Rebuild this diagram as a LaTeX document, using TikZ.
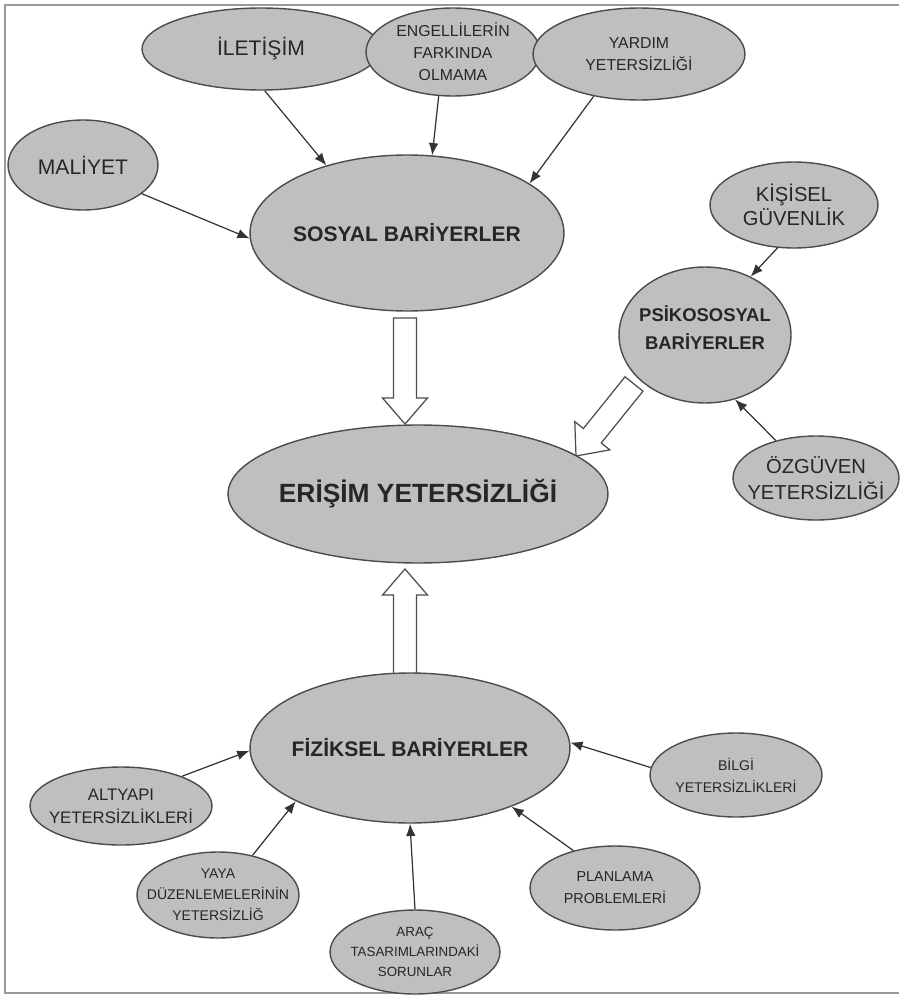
\documentclass[tikz,border=0pt]{standalone}
\usepackage{fontspec}
\setmainfont{Liberation Sans}
\usetikzlibrary{shapes.geometric,arrows.meta,calc}

\newcommand{\tsize}[2]{\fontsize{#1}{#2}\selectfont}

\tikzset{
  bubble/.style={ellipse, draw=black!70, line width=0.8pt, fill=gray!50, inner sep=0pt},
  lbl/.style={align=center, text=black!85, inner sep=0pt},
  link/.style={draw=black!80, line width=0.7pt, -{Latex[length=7pt,width=5.5pt]}},
  barrow/.style={draw=black!70, line width=0.7pt, fill=white, line join=miter},
  frame/.style={draw=gray!80, line width=1.3pt}
}

% hollow block arrow: name, tail, tip
\newcommand{\blockarrow}[3]{%
  \coordinate (#1-h) at ($(#3)!0.52cm!(#2)$);
  \draw[barrow] ($(#2)!0.23cm!90:(#3)$) -- ($(#1-h)!0.23cm!-90:(#2)$)
    -- ($(#1-h)!0.45cm!-90:(#2)$) -- (#3) -- ($(#1-h)!0.45cm!90:(#2)$)
    -- ($(#1-h)!0.23cm!90:(#2)$) -- ($(#2)!0.23cm!-90:(#3)$) -- cycle;
}

\begin{document}
\begin{tikzpicture}[x=0.02cm, y=-0.02cm]
        \useasboundingbox (0,0) rectangle (899,997);
        \draw[frame] (899,5) -- (5,5) -- (5,993) -- (899,993);

        \coordinate (c-ilet) at (261,49);
        \coordinate (c-engel) at (453,52);
        \coordinate (c-yardim) at (639,54);
        \coordinate (c-maliyet) at (83,165);
        \coordinate (c-sosyal) at (407,233);
        \coordinate (c-kisisel) at (794,205);
        \coordinate (c-psiko) at (705,335);
        \coordinate (c-erisim) at (418,494);
        \coordinate (c-ozguven) at (816,478);
        \coordinate (c-fiziksel) at (410,748);
        \coordinate (c-altyapi) at (121,806);
        \coordinate (c-bilgi) at (736,775);
        \coordinate (c-yaya) at (218,895);
        \coordinate (c-plan) at (615,888);
        \coordinate (c-arac) at (415,952);

        % block arrows into the main node
        \coordinate (t1) at (405,318);
        \coordinate (p1) at (405,424);
        \coordinate (t2) at (634,384);
        \coordinate (p2) at (576,456);
        \coordinate (t3) at (405,676);
        \coordinate (p3) at (405,569);
        \blockarrow{a1}{t1}{p1}
        \blockarrow{a2}{t2}{p2}
        \blockarrow{a3}{t3}{p3}

        \node[bubble, minimum width=4.76cm, minimum height=1.64cm, label={[lbl, font=\tsize{12}{14}]center:İLETİŞİM}] (ilet) at (c-ilet) {};
        \node[bubble, minimum width=3.48cm, minimum height=1.76cm, label={[lbl, font=\tsize{9}{12.5}]center:{ENGELLİLERİN\\FARKINDA\\OLMAMA}}] (engel) at (c-engel) {};
        \node[bubble, minimum width=4.24cm, minimum height=1.84cm, label={[lbl, font=\tsize{9}{12.5}]center:{YARDIM\\YETERSİZLİĞİ}}] (yardim) at (c-yardim) {};
        \node[bubble, minimum width=3.0cm, minimum height=1.8cm, label={[lbl, font=\tsize{12}{14}]center:MALİYET}] (maliyet) at (c-maliyet) {};
        \node[bubble, minimum width=6.28cm, minimum height=3.12cm, label={[lbl, font=\tsize{12}{14}\bfseries]center:SOSYAL BARİYERLER}] (sosyal) at (c-sosyal) {};
        \node[bubble, minimum width=3.36cm, minimum height=1.72cm, label={[lbl, font=\tsize{11.5}{14}]center:{KİŞİSEL\\GÜVENLİK}}] (kisisel) at (c-kisisel) {};
        \node[bubble, minimum width=3.44cm, minimum height=2.72cm, label={[lbl, font=\tsize{10.5}{16}\bfseries, yshift=4pt]center:{PSİKOSOSYAL\\BARİYERLER}}] (psiko) at (c-psiko) {};
        \node[bubble, minimum width=7.6cm, minimum height=2.76cm, label={[lbl, font=\tsize{15}{18}\bfseries]center:ERİŞİM YETERSİZLİĞİ}] (erisim) at (c-erisim) {};
        \node[bubble, minimum width=3.32cm, minimum height=1.68cm, label={[lbl, font=\tsize{11.5}{15}]center:{ÖZGÜVEN\\YETERSİZLİĞİ}}] (ozguven) at (c-ozguven) {};
        \node[bubble, minimum width=6.4cm, minimum height=3.0cm, label={[lbl, font=\tsize{12}{14}\bfseries]center:FİZİKSEL BARİYERLER}] (fiziksel) at (c-fiziksel) {};
        \node[bubble, minimum width=3.64cm, minimum height=1.56cm, label={[lbl, font=\tsize{9.5}{13}]center:{ALTYAPI\\YETERSİZLİKLERİ}}] (altyapi) at (c-altyapi) {};
        \node[bubble, minimum width=3.44cm, minimum height=1.68cm, label={[lbl, font=\tsize{8}{12.5}]center:{BİLGİ\\YETERSİZLİKLERİ}}] (bilgi) at (c-bilgi) {};
        \node[bubble, minimum width=3.24cm, minimum height=1.72cm, label={[lbl, font=\tsize{8}{12}]center:{YAYA\\DÜZENLEMELERİNİN\\YETERSİZLİĞ}}] (yaya) at (c-yaya) {};
        \node[bubble, minimum width=3.4cm, minimum height=1.68cm, label={[lbl, font=\tsize{8.2}{12.5}]center:{PLANLAMA\\PROBLEMLERİ}}] (plan) at (c-plan) {};
        \node[bubble, minimum width=3.4cm, minimum height=1.68cm, label={[lbl, font=\tsize{7.6}{11.3}]center:{ARAÇ\\TASARIMLARINDAKİ\\SORUNLAR}}] (arac) at (c-arac) {};

        \draw[link] (ilet.-85) -- (sosyal.140);
        \draw[link] (engel.-108) -- (sosyal.72);
        \draw[link] (yardim.-137) -- (sosyal.22);
        \draw[link] (maliyet.-26) -- (sosyal.182);
        \draw[link] (kisisel.-111) -- (psiko.52);
        \draw[link] (ozguven.137) -- (psiko.-65);
        \draw[link] (altyapi.26) -- (fiziksel.181);
        \draw[link] (yaya.49) -- (fiziksel.-155);
        \draw[link] (arac.90) -- (fiziksel.-90);
        \draw[link] (plan.138) -- (fiziksel.-30);
        \draw[link] (bilgi.175) -- (fiziksel.2);
\end{tikzpicture}
\end{document}
